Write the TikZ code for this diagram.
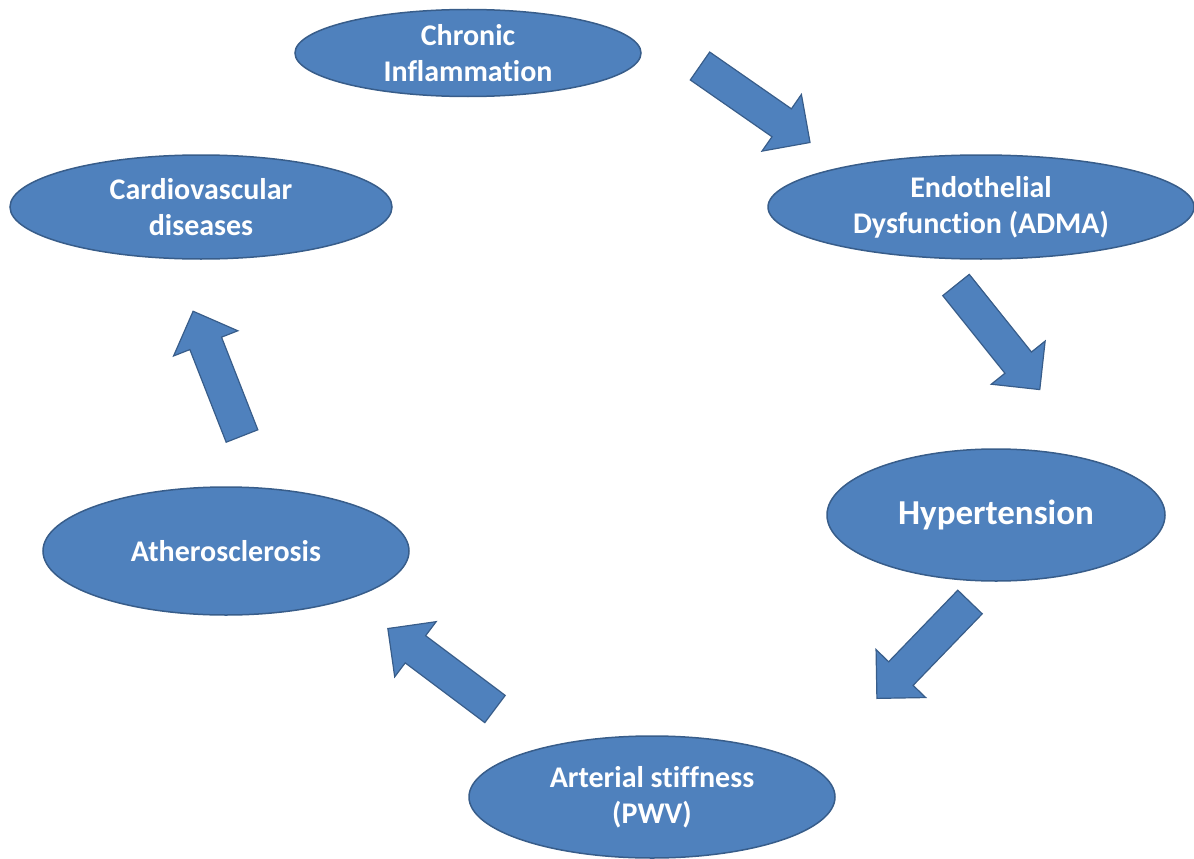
\documentclass[tikz,border=0pt]{standalone}
\usepackage{fontspec}
\setmainfont{Carlito}[Ligatures=NoCommon]
\usetikzlibrary{shapes.geometric}

\definecolor{ovalfill}{HTML}{4F81BD}
\definecolor{ovalline}{HTML}{385D8A}

\tikzset{
  oval/.style={ellipse, fill=ovalfill, draw=ovalline, line width=1.5pt,
    inner sep=0pt, align=center, text=white,
    font=\fontsize{30}{36}\selectfont\bfseries},
  bigarrow/.style={fill=ovalfill, draw=ovalline, line width=1.2pt, line join=miter}
}

% block arrow: tail point, angle
\newcommand{\blockarrow}[2]{%
  \draw[bigarrow, shift={(#1)}, rotate=#2]
    (0,-17) -- (99.5,-17) -- (99.5,-34.5) -- (134,0) -- (99.5,34.5) -- (99.5,17) -- (0,17) -- cycle;}

\begin{document}
\begin{tikzpicture}[x=1pt, y=-1pt]
              \useasboundingbox (0,0) rectangle (1194,859);

              % Ovals
              \node[oval, minimum width=346pt, minimum height=87pt] (inflam) at (468,53) {Chronic\\Inflammation};
              \node[oval, minimum width=426pt, minimum height=104pt] (endo) at (981,207) {Endothelial\\Dysfunction (ADMA)};
              \node[oval, minimum width=338pt, minimum height=132pt, font=\fontsize{35}{42}\selectfont\bfseries] (hyper) at (996,515) {Hypertension};
              \node[oval, minimum width=366pt, minimum height=122pt] (stiff) at (652,797) {Arterial stiffness\\(PWV)};
              \node[oval, minimum width=366pt, minimum height=128pt] (athero) at (226,551) {Atherosclerosis};
              \node[oval, minimum width=382pt, minimum height=104pt] (cardio) at (201,207) {Cardiovascular\\diseases};

              % Block arrows
              \blockarrow{700,66}{-34.8}
              \blockarrow{956,285}{-51.3}
              \blockarrow{970,602}{-134}
              \blockarrow{495,709}{143.1}
              \blockarrow{242,436}{111.4}
          \end{tikzpicture}
\end{document}
